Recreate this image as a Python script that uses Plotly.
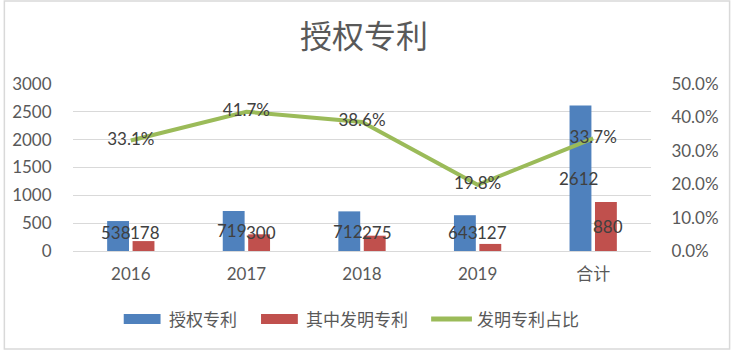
import plotly.graph_objects as go

# Patent statistics by year
categories = ["2016", "2017", "2018", "2019", "合计"]
granted = [538, 719, 712, 643, 2612]          # 授权专利
invention = [178, 300, 275, 127, 880]         # 其中发明专利
invention_share = [0.331, 0.417, 0.386, 0.198, 0.337]  # 发明专利占比
series_names = ["授权专利", "其中发明专利", "发明专利占比"]

left_ticks = [0, 500, 1000, 1500, 2000, 2500, 3000]
right_ticks = [0.0, 0.1, 0.2, 0.3, 0.4, 0.5]

BLUE = "#4F81BD"
RED = "#C0504D"
GREEN = "#9BBB59"
LABEL = "#404040"
AXIS_TEXT = "#595959"
GRID = "#D9D9D9"
FONT = "Lato, 'Noto Sans CJK SC', sans-serif"
NUM_SIZE = 17

# plot-area geometry in pixels
W, H = 731, 350
L, R, T, B = 70, 80, 84, 99
PW, PH = W - L - R, H - T - B


def px_x(px):
    return (px - L) / PW


def px_y(py):
    return (H - B - py) / PH


pos = list(range(len(categories)))

fig = go.Figure()

fig.add_trace(go.Bar(
    x=pos, y=granted, name=series_names[0],
    marker=dict(color=BLUE, line=dict(width=0)),
))
fig.add_trace(go.Bar(
    x=pos, y=invention, name=series_names[1],
    marker=dict(color=RED, line=dict(width=0)),
))
fig.add_trace(go.Scatter(
    x=pos, y=invention_share, name=series_names[2], yaxis="y2",
    mode="lines+text",
    line=dict(color=GREEN, width=4),
    text=[f"{v*100:.1f}%" for v in invention_share],
    textposition="middle center",
    textfont=dict(family=FONT, size=NUM_SIZE, color=LABEL),
))

# Value labels centred on each bar, kept clear of the baseline
min_label_y = 340
annotations = []
for i in pos:
    for vals, shift in ((granted, -14.5), (invention, 14.5)):
        v = vals[i]
        annotations.append(dict(
            x=i, y=max(v / 2, min_label_y), xref="x", yref="y",
            text=str(v), showarrow=False, xshift=shift,
            font=dict(family=FONT, size=NUM_SIZE, color=LABEL),
        ))

# Legend drawn below the plot: wide swatches followed by the series name
legend_y = 319
legend_items = [(121, "bar", BLUE), (259, "bar", RED), (430, "line", GREEN)]
shapes = []
for (x0, kind, color), name in zip(legend_items, series_names):
    if kind == "bar":
        shapes.append(dict(
            type="rect", xref="paper", yref="paper",
            x0=px_x(x0), x1=px_x(x0 + 37),
            y0=px_y(legend_y + 5), y1=px_y(legend_y - 5),
            fillcolor=color, line=dict(width=0),
        ))
        tx = x0 + 43
    else:
        shapes.append(dict(
            type="line", xref="paper", yref="paper",
            x0=px_x(x0), x1=px_x(x0 + 41),
            y0=px_y(legend_y), y1=px_y(legend_y),
            line=dict(color=color, width=5),
        ))
        tx = x0 + 44
    annotations.append(dict(
        x=px_x(tx), y=px_y(legend_y), xref="paper", yref="paper",
        xanchor="left", yanchor="middle", showarrow=False, text=name,
        font=dict(family=FONT, size=17, color=AXIS_TEXT),
    ))

# light outer frame around the whole chart
shapes.append(dict(
    type="rect", xref="paper", yref="paper",
    x0=px_x(1), x1=px_x(730), y0=px_y(349), y1=px_y(1),
    line=dict(color=GRID, width=1.5), fillcolor="rgba(0,0,0,0)",
    layer="below",
))

fig.update_layout(
    width=W, height=H,
    margin=dict(l=L, r=R, t=T, b=B),
    paper_bgcolor="white", plot_bgcolor="white",
    font=dict(family=FONT, color=AXIS_TEXT),
    title=dict(
        text="授权专利", x=364 / W, xanchor="center",
        y=1 - 37 / H, yanchor="middle",
        font=dict(family=FONT, size=32, color=AXIS_TEXT),
    ),
    barmode="group", bargap=0.56, bargroupgap=0.14,
    showlegend=False,
    xaxis=dict(
        range=[-0.5, len(categories) - 0.5],
        tickvals=pos, ticktext=categories,
        tickfont=dict(family=FONT, size=NUM_SIZE, color=AXIS_TEXT),
        showgrid=False, zeroline=False,
        showline=True, linecolor=GRID, linewidth=1,
        ticks="outside", ticklen=8, tickcolor="rgba(0,0,0,0)",
    ),
    yaxis=dict(
        range=[0, 3000], tickvals=left_ticks,
        tickfont=dict(family=FONT, size=NUM_SIZE, color=AXIS_TEXT),
        showgrid=True, gridcolor=GRID, gridwidth=1,
        zeroline=False, showline=False,
        ticks="outside", ticklen=17, tickcolor="rgba(0,0,0,0)",
    ),
    yaxis2=dict(
        range=[0, 0.5], tickvals=right_ticks, tickformat=".1%",
        overlaying="y", side="right",
        tickfont=dict(family=FONT, size=NUM_SIZE, color=AXIS_TEXT),
        showgrid=False, zeroline=False, showline=False,
        ticks="outside", ticklen=16, tickcolor="rgba(0,0,0,0)",
    ),
    annotations=annotations,
    shapes=shapes,
)

fig.write_html("out.html")
